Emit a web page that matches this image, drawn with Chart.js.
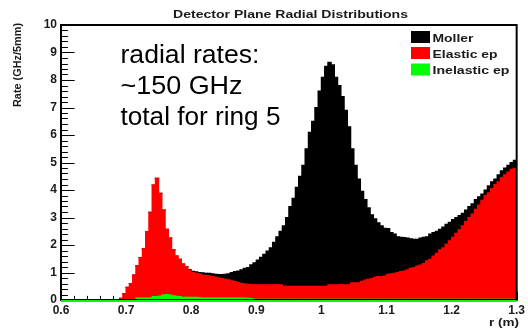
<!DOCTYPE html>
<html>
<head>
<meta charset="utf-8">
<script src="https://cdn.jsdelivr.net/npm/chart.js@4.4.1/dist/chart.umd.min.js"></script>
<style>
  html, body { margin: 0; padding: 0; background: #fff; }
  canvas { display: block; }
</style>
</head>
<body>
<canvas id="c" width="528" height="328" style="width:528px;height:328px"></canvas>
<script>
// ---- data (rate in GHz per 5 mm bin, bins of 0.005 m from 0.6 to 1.3 m) ----
const binStart = 0.6;
const binWidth = 0.005;
const binCount = 140;

const xTickLabels = ["0.6", "0.7", "0.8", "0.9", "1", "1.1", "1.2", "1.3"];
const yTickLabels = ["0", "1", "2", "3", "4", "5", "6", "7", "8", "9", "10"];

const seriesNames = ["Moller", "Elastic ep", "Inelastic ep"];
const seriesColors = ["#000000", "#ff0000", "#00ff00"];

const moller = [
  0,0,0,0,0,0,0,0,0,0, 0,0,0,0,0,0,0,0,0,0, 0,0,0,0,0,0,0,0,0,0, 0,0,0,0,0,0,0,0,0,
  0.02,0.04,0.05,0.05,0.08,0.08,0.09,0.10,0.10,0.12,
  0.14,0.18,0.22,0.30,0.36,0.42,0.50,0.57,0.61,0.72,
  0.80,0.90,1.00,1.11,1.23,1.35,1.55,1.75,1.95,2.20,
  2.50,2.90,3.20,3.60,4.00,4.40,5.00,5.60,6.00,6.50,
  7.10,7.60,8.00,8.09,8.00,7.55,7.25,6.85,6.35,5.75,
  4.88,4.28,3.78,3.27,2.93,2.60,2.32,2.13,1.96,1.85,
  1.74,1.67,1.50,1.43,1.30,1.25,1.22,1.15,1.07,1.03,
  0.98,0.98,0.96,0.88,0.92,0.85,0.80,0.75,0.75,0.73,
  0.67,0.64,0.58,0.52,0.45,0.42,0.40,0.38,0.35,0.30,
  0.23,0.20,0.25,0.25,0.20,0.25,0.25,0.25,0.25,0.25,
  0.30
];

const elastic = [
  0,0,0,0,0,0,0,0,0,0, 0,0,0,0,0,0,0,0,
  0.06,0.22,0.46,0.60,0.91,1.17,1.47,1.80,2.41,3.12,
  4.06,4.30,3.74,3.09,2.37,2.07,1.67,1.47,1.36,1.21,
  1.11,0.99,0.90,0.87,0.86,0.84,0.82,0.81,0.78,0.76,
  0.73,0.71,0.68,0.66,0.63,0.60,0.56,0.53,0.51,0.51,
  0.51,0.53,0.53,0.53,0.53,0.53,0.53,0.53,0.53,0.53,
  0.48,0.48,0.48,0.48,0.48,0.48,0.48,0.48,0.48,0.48,
  0.48,0.48,0.48,0.48,0.53,0.53,0.53,0.53,0.53,0.53,
  0.53,0.60,0.60,0.60,0.66,0.70,0.73,0.76,0.80,0.83,
  0.83,0.85,0.91,0.93,0.95,0.98,1.01,1.03,1.08,1.13,
  1.16,1.21,1.25,1.30,1.40,1.46,1.58,1.68,1.80,1.88,
  2.00,2.13,2.26,2.40,2.53,2.68,2.83,2.98,3.10,3.28,
  3.43,3.60,3.78,3.88,4.03,4.18,4.28,4.43,4.53,4.63,
  4.73,4.76
];

const inelastic = [
  0,0,0,0,0,0,0,0,0,0, 0,0,0,0,0,0,0,0,0,0, 0,0,0,
  0.07,0.07,0.07,0.07,0.07,
  0.12,0.12,0.14,0.18,0.20,0.18,0.15,0.13,0.12,0.10,0.10,0.10,0.10,0.10,
  0.09,
  0.07,0.07,0.07,0.07,0.07,0.07,0.07,0.07,0.07,0.07,0.07,0.07,0.07,0.07,
  0.06,0.05,
  0.02,0.02,0.02,0.02,0.02,0.02,0.02,0.02,0.02,0.02,
  0.02,0.02,0.02,0.02,0.02,0.02,0.02,0.02,0.02,0.02,
  0.02,0.02,0.02,0.02,0.02,0.02,0.02,0.02,0.02,0.02,
  0.02,0.02,0.02,0.02,0.02,0.02,0.02,0.02,0.02,0.02,
  0.02,0.02,0.02,0.02,0.02,0.02,0.02,0.02,0.02,0.02,
  0.02,0.02,0.02,0.02,0.02,0.02,0.02,0.02,0.02,0.02,
  0.02,0.02,0.02,0.02,0.02,0.02,0.02,0.02,0.02,0.02,
  0.02,0.02,0.02,0.02,0.02,0.02,0.02,0.02,0.02,0.02,
  0.02
];

const titleText = "Detector Plane Radial Distributions";
const yTitle = "Rate (GHz/5mm)";
const xTitle = "r (m)";
const noteLines = ["radial rates:", "~150 GHz", "total for ring 5"];

// ---- build datasets ----
const centers = [];
for (let i = 0; i < binCount; i++) centers.push(+(binStart + (i + 0.5) * binWidth).toFixed(4));
const toPts = arr => arr.map((v, i) => ({ x: centers[i], y: v }));

const TXT = '#1a1a1a';

function fitText(ctx, text, x, y, font, w, align) {
  ctx.save();
  ctx.font = font;
  const m = ctx.measureText(text).width;
  const s = w ? w / m : 1;
  ctx.translate(x, y);
  ctx.scale(s, 1);
  ctx.textAlign = align || 'left';
  ctx.textBaseline = 'alphabetic';
  ctx.fillText(text, 0, 0);
  ctx.restore();
}

const rootAxes = {
  id: 'rootAxes',
  beforeDatasetsDraw(chart) {
    const ctx = chart.ctx, xs = chart.scales.x, ys = chart.scales.y;
    const a = chart.chartArea;
    const w = a.right - a.left, h = a.bottom - a.top;
    ctx.save();
    ctx.strokeStyle = '#000';
    ctx.lineWidth = 1;
    for (let k = 0; k <= 50; k++) {
      const v = k * 0.2;
      const py = Math.round(ys.getPixelForValue(v)) + 0.5;
      const len = (k % 5 === 0) ? 0.03 * w : 0.015 * w;
      ctx.beginPath(); ctx.moveTo(a.left, py); ctx.lineTo(a.left + len, py); ctx.stroke();
    }
    for (let k = 0; k <= 35; k++) {
      const v = 0.6 + k * 0.02;
      const px = Math.round(xs.getPixelForValue(v)) + 0.5;
      const len = (k % 5 === 0) ? 0.03 * h : 0.015 * h;
      ctx.beginPath(); ctx.moveTo(px, a.bottom); ctx.lineTo(px, a.bottom - len); ctx.stroke();
    }
    ctx.restore();
  },
  afterDatasetsDraw(chart) {
    const ctx = chart.ctx, xs = chart.scales.x, ys = chart.scales.y;
    const a = chart.chartArea;
    ctx.save();
    ctx.strokeStyle = '#000';
    ctx.lineWidth = 2;
    ctx.strokeRect(a.left, a.top, a.right - a.left, a.bottom - a.top);
    ctx.strokeStyle = '#00ff00';
    ctx.beginPath();
    const y0 = ys.getPixelForValue(0) + 1;
    ctx.moveTo(xs.getPixelForValue(0.6), y0);
    ctx.lineTo(xs.getPixelForValue(1.3), y0);
    ctx.stroke();
    ctx.restore();
  },
  afterDraw(chart) {
    const ctx = chart.ctx;
    ctx.save();
    ctx.fillStyle = TXT;
    fitText(ctx, titleText, 290.5, 18, 'bold 11px "Liberation Sans", Arial, sans-serif', 235, 'center');
    ctx.save();
    ctx.translate(20.5, 65);
    ctx.rotate(-Math.PI / 2);
    fitText(ctx, yTitle, 0, 0, 'bold 10px "Liberation Sans", Arial, sans-serif', 84, 'center');
    ctx.restore();
    fitText(ctx, xTitle, 519, 326, 'bold 11px "Liberation Sans", Arial, sans-serif', 30, 'right');
    const rows = [37, 53, 69.5];
    const widths = [41, 65, 77];
    for (let i = 0; i < 3; i++) {
      ctx.fillStyle = seriesColors[i];
      ctx.fillRect(411, rows[i] - 6, 19, 12);
      ctx.fillStyle = TXT;
      fitText(ctx, seriesNames[i], 432.5, rows[i] + 4.5, 'bold 11px "Liberation Sans", Arial, sans-serif', widths[i], 'left');
    }
    ctx.fillStyle = '#000';
    const base = [63, 94, 125];
    const nw = [139, 122, 160];
    for (let i = 0; i < noteLines.length; i++) {
      fitText(ctx, noteLines[i], 120.5, base[i], '26px "Liberation Sans", Arial, sans-serif', nw[i], 'left');
    }
    ctx.restore();
  }
};

new Chart(document.getElementById('c'), {
  type: 'bar',
  data: {
    datasets: [
      { label: seriesNames[2], data: toPts(inelastic), backgroundColor: seriesColors[2], borderWidth: 0, inflateAmount: 0.6 },
      { label: seriesNames[1], data: toPts(elastic),   backgroundColor: seriesColors[1], borderWidth: 0, inflateAmount: 0.6 },
      { label: seriesNames[0], data: toPts(moller),    backgroundColor: seriesColors[0], borderWidth: 0, inflateAmount: 0.6 }
    ]
  },
  options: {
    responsive: false,
    animation: false,
    devicePixelRatio: 1,
    layout: { padding: { left: 0, right: 6, top: 25, bottom: 0 } },
    datasets: { bar: { barPercentage: 1, categoryPercentage: 1, grouped: false } },
    plugins: { legend: { display: false }, tooltip: { enabled: false }, title: { display: false } },
    scales: {
      x: {
        type: 'linear', stacked: true, min: 0.6, max: 1.3, offset: false,
        grid: { display: false, drawTicks: false }, border: { display: false },
        ticks: {
          stepSize: 0.1, padding: 3, color: TXT, font: { family: '"Liberation Sans", Arial, sans-serif', size: 12, weight: 'bold' },
          maxRotation: 0, autoSkip: false,
          callback: (v) => {
            const idx = Math.round((v - 0.6) / 0.1);
            return (Math.abs(v - (0.6 + idx * 0.1)) < 1e-6) ? xTickLabels[idx] : '';
          }
        },
        afterFit: (s) => { s.height = 28; }
      },
      y: {
        type: 'linear', stacked: true, min: 0, max: 10,
        grid: { display: false, drawTicks: false }, border: { display: false },
        ticks: {
          stepSize: 1, padding: 4, color: TXT, font: { family: '"Liberation Sans", Arial, sans-serif', size: 12, weight: 'bold' },
          callback: (v) => yTickLabels[Math.round(v)]
        },
        afterFit: (s) => { s.width = 61; }
      }
    }
  },
  plugins: [rootAxes]
});
</script>
</body>
</html>
